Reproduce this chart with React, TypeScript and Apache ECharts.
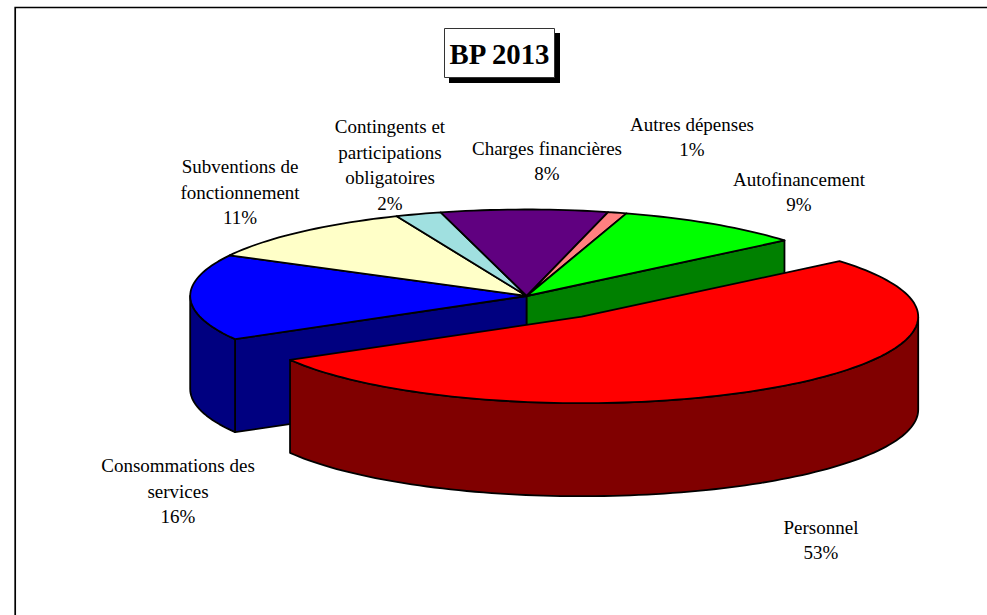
import React, { useEffect, useRef } from "react";
import * as echarts from "echarts";

const categories = [
  "Personnel",
  "Consommations des\nservices",
  "Subventions de\nfonctionnement",
  "Contingents et\nparticipations\nobligatoires",
  "Charges financières",
  "Autres dépenses",
  "Autofinancement",
];
const values = [52.8, 16.1, 10.9, 2.2, 8.0, 0.9, 9.1];
const topColors = ["#FF0000", "#0000FF", "#FFFFC8", "#A0E0E0", "#600080", "#FF8080", "#00FF00"];
const sideColors = ["#800000", "#000080", "#808064", "#507070", "#300040", "#804040", "#008000"];
const titleText = "BP 2013";

// Label anchor (centre of the text block), per slice
const labelX = [821, 178, 240, 390, 547, 692, 799];
const labelY = [540, 491, 192, 165, 161, 137, 192];
const explodeX = [55, 0, 0, 0, 0, 0, 0];
const explodeY = [20.7, 0, 0, 0, 0, 0, 0];
// Which radial cut face shows below the top: start edge, end edge, or none
const cutFace = ["none", "start", "none", "none", "none", "none", "end"];

const CX = 526.7;
const CY = 296;
const RX = 336.5;
const RY = 86.5;
const DEPTH = 93;
const START_DEG = -40;
const FONT = '"Liberation Serif", "Times New Roman", serif';
const total = values.reduce((a, b) => a + b, 0);

function rimPoint(cx: number, cy: number, deg: number): number[] {
  const t = (deg * Math.PI) / 180;
  return [cx + RX * Math.cos(t), cy + RY * Math.sin(t)];
}

function arcPts(cx: number, cy: number, a0: number, a1: number): number[][] {
  const n = Math.max(2, Math.ceil(Math.abs(a1 - a0) / 1.5));
  const pts: number[][] = [];
  for (let i = 0; i <= n; i++) pts.push(rimPoint(cx, cy, a0 + ((a1 - a0) * i) / n));
  return pts;
}

function renderItem(params: any, api: any) {
  const i = params.dataIndex;
  const v = api.value(1);
  let before = 0;
  for (let k = 0; k < i; k++) before += values[k];
  const a0 = START_DEG + (before / total) * 360;
  const a1 = a0 + (v / total) * 360;
  const cx = CX + explodeX[i];
  const cy = CY + explodeY[i];
  const base = i === 0 ? 100 : 10;
  const children: any[] = [];
  const poly = (points: number[][], fill: string, z2: number) =>
    children.push({
      type: "polygon",
      z2,
      shape: { points },
      style: { fill, stroke: "#000", lineWidth: 1.8, lineJoin: "round" },
    });

  // Radial cut face
  if (cutFace[i] !== "none") {
    const p = rimPoint(cx, cy, cutFace[i] === "start" ? a0 : a1);
    poly([[cx, cy], p, [p[0], p[1] + DEPTH], [cx, cy + DEPTH]], sideColors[i], base);
  }

  // Outer wall: the part of the rim on the near half of the ellipse (0..180 deg)
  const wall0 = Math.max(a0, 0);
  const wall1 = Math.min(a1, 180);
  if (wall1 > wall0) {
    const front = arcPts(cx, cy, wall0, wall1);
    const back = front.slice().reverse().map((p) => [p[0], p[1] + DEPTH]);
    poly(front.concat(back), sideColors[i], base + 1);
  }

  // Top
  poly([[cx, cy], ...arcPts(cx, cy, a0, a1)], topColors[i], base + 2);

  // Label
  children.push({
    type: "text",
    z2: 200,
    x: labelX[i],
    y: labelY[i],
    style: {
      text: `${categories[i]}\n${Math.round(v)}%`,
      font: `19px ${FONT}`,
      fill: "#000",
      align: "center",
      verticalAlign: "middle",
      lineHeight: 25.6,
    },
  });
  return { type: "group", children };
}

export default function App() {
  const ref = useRef<HTMLDivElement>(null);
  useEffect(() => {
    const chart = echarts.init(ref.current!, undefined, { renderer: "svg" });
    chart.setOption({
      animation: false,
      backgroundColor: "#fff",
      textStyle: { fontFamily: FONT },
      graphic: [
        {
          type: "rect",
          z: 1,
          shape: { x: 15.2, y: 7.5, width: 1100, height: 800 },
          style: { fill: "#fff", stroke: "#000", lineWidth: 1.7 },
          silent: true,
        },
        {
          type: "rect",
          z: 2,
          shape: { x: 449, y: 33, width: 111, height: 50 },
          style: { fill: "#000" },
          silent: true,
        },
        {
          type: "rect",
          z: 3,
          shape: { x: 444.5, y: 28.5, width: 110, height: 49 },
          style: { fill: "#fff", stroke: "#333", lineWidth: 1 },
          silent: true,
        },
        {
          type: "text",
          z: 4,
          x: 499.5,
          y: 54,
          style: {
            text: titleText,
            font: `bold 28.8px ${FONT}`,
            fill: "#000",
            align: "center",
            verticalAlign: "middle",
          },
          silent: true,
        },
      ],
      series: [
        {
          type: "custom",
          coordinateSystem: "none",
          silent: true,
          z: 5,
          data: categories.map((c, i) => ({ name: c, value: [i, values[i]] })),
          renderItem,
        },
      ],
    });
    return () => chart.dispose();
  }, []);
  return (
    <div
      ref={ref}
      style={{ position: "fixed", left: 0, top: 0, width: 987, height: 615 }}
    />
  );
}
